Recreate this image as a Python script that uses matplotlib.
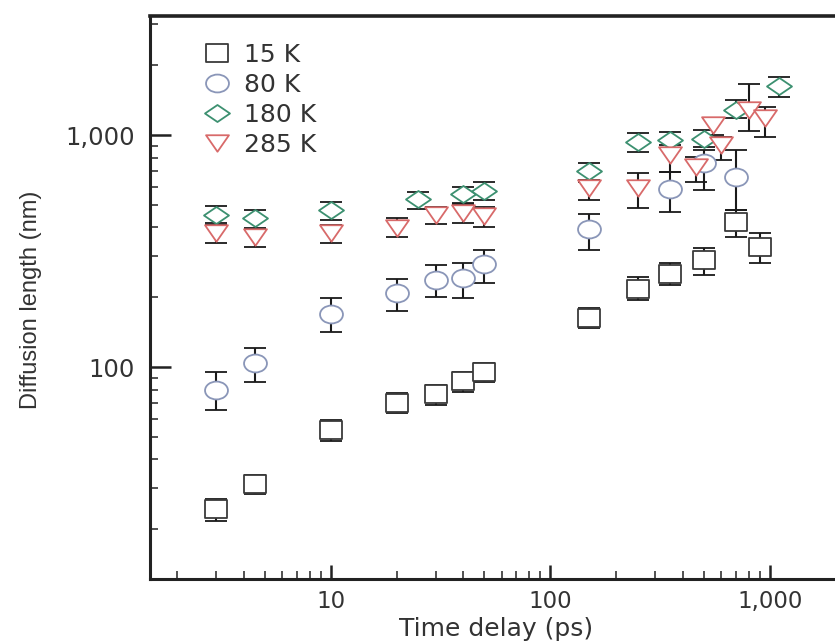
import matplotlib
matplotlib.use("Agg")
import matplotlib.pyplot as plt
import numpy as np
from matplotlib.path import Path
from matplotlib.transforms import Affine2D
from matplotlib.ticker import FuncFormatter, LogLocator, NullFormatter

# time delay (ps), diffusion length (nm) and lower/upper error bounds
t_15 = [3, 4.5, 10, 20, 30, 40, 50, 150, 250, 350, 500, 700, 900]
L_15 = [24.4, 31.3, 53.5, 70, 76.3, 87, 95.5, 162, 218, 253, 289, 423, 330]
lo_15 = [21.7, 28.3, 48.1, 63.1, 68.6, 78.3, 86.4, 147, 195, 225, 249, 365, 280]
hi_15 = [26.9, 34.2, 59.2, 77.1, 83.6, 95.4, 104.4, 179, 245, 280, 325, 475, 377]

t_80 = [3, 4.5, 10, 20, 30, 40, 50, 150, 350, 500, 700]
L_80 = [80, 104, 170, 208, 237, 241, 278, 392, 583, 755, 661]
lo_80 = [65, 86, 142, 174, 201, 199, 231, 321, 467, 579, 475]
hi_80 = [95, 121, 198, 239, 275, 280, 321, 459, 695, 861, 861]

t_180 = [3, 4.5, 10, 25, 40, 50, 150, 250, 350, 500, 700, 1100]
L_180 = [452, 438, 475, 528, 557, 576, 703, 935, 951, 966, 1282, 1627]
lo_180 = [416, 396, 431, 479, 510, 525, 640, 847, 877, 890, 1180, 1455]
hi_180 = [495, 475, 516, 570, 599, 630, 755, 1017, 1028, 1050, 1416, 1775]

t_285 = [3, 4.5, 10, 20, 30, 40, 50, 150, 250, 350, 460, 550, 600, 800, 950]
L_285 = [377, 362, 377, 398, 452, 460, 448, 589, 589, 820, 731, 1104, 906, 1282, 1180]
lo_285 = [341, 328, 341, 362, 413, 419, 403, 525, 483, 695, 630, 1000, 779, 1036, 984]
hi_285 = [409, 392, 409, 437, 491, 505, 491, 630, 683, 906, 806, 1180, 984, 1667, 1324]

labels = ["15 K", "80 K", "180 K", "285 K"]
colors = ["#3a3a3a", "#8a96b8", "#3c9070", "#d86a6a"]

# the original scan is stretched sideways, so the markers are a bit wider than tall
sq = Path([(-1, -0.8), (1, -0.8), (1, 0.8), (-1, 0.8), (-1, -0.8)],
          [Path.MOVETO, Path.LINETO, Path.LINETO, Path.LINETO, Path.CLOSEPOLY])
ell = Path.unit_circle().transformed(Affine2D().scale(1, 0.78))
dia = Path([(-1, 0), (0, 0.68), (1, 0), (0, -0.68), (-1, 0)],
           [Path.MOVETO, Path.LINETO, Path.LINETO, Path.LINETO, Path.CLOSEPOLY])
tri = Path([(-1, 0.72), (1, 0.72), (0, -0.72), (-1, 0.72)],
           [Path.MOVETO, Path.LINETO, Path.LINETO, Path.CLOSEPOLY])
markers = [sq, ell, dia, tri]
msizes = [15.5, 16.5, 18, 16.5]

series = [(t_15, L_15, lo_15, hi_15), (t_80, L_80, lo_80, hi_80),
          (t_180, L_180, lo_180, hi_180), (t_285, L_285, lo_285, hi_285)]

W, H = 835, 642
fig = plt.figure(figsize=(W / 100, H / 100), dpi=100)

xlim = (1.5, 3000)
ylim = (12.2, 3260)
px_per_decade = 219.5
left, right_px = 150, 150 + px_per_decade * np.log10(xlim[1] / xlim[0])
top, bottom = 16, 579
ax = fig.add_axes([left / W, 1 - bottom / H, (right_px - left) / W, (bottom - top) / H])

handles = []
for (t, L, lo, hi), lab, c, m, ms in zip(series, labels, colors, markers, msizes):
    t = np.array(t, float)
    L = np.array(L, float)
    yerr = [L - np.array(lo), np.array(hi) - L]
    eb = ax.errorbar(t, L, yerr=yerr, ls="none", marker=m, ms=ms, mfc="white",
                     mec=c, mew=1.3, ecolor="#1a1a1a", elinewidth=1.5,
                     capsize=8, capthick=1.5, label=lab)
    handles.append(eb.lines[0])

ax.set_xscale("log")
ax.set_yscale("log")
ax.set_xlim(*xlim)
ax.set_ylim(*ylim)

comma = FuncFormatter(lambda v, p: f"{v:,.0f}")
ax.xaxis.set_major_locator(LogLocator(base=10))
ax.yaxis.set_major_locator(LogLocator(base=10))
ax.xaxis.set_major_formatter(comma)
ax.yaxis.set_major_formatter(comma)
ax.xaxis.set_minor_formatter(NullFormatter())
ax.yaxis.set_minor_formatter(NullFormatter())

ax.tick_params(which="both", direction="in", top=False, right=False,
               color="#222222", labelcolor="#333333")
ax.tick_params(axis="x", which="major", length=10, width=1.8, pad=8, labelsize=16.5)
ax.tick_params(axis="y", which="major", length=15, width=1.8, pad=11, labelsize=17.5)
ax.tick_params(which="minor", length=6, width=1.1)
for lbl in ax.get_xticklabels() + ax.get_yticklabels():
    lbl.set_family("DejaVu Sans")

ax.spines["right"].set_visible(False)
ax.spines["top"].set_linewidth(2.6)
ax.spines["left"].set_linewidth(2.2)
ax.spines["bottom"].set_linewidth(2.2)
for s in ax.spines.values():
    s.set_color("#222222")

ax.set_xlabel("Time delay (ps)", fontsize=18, color="#333333", family="DejaVu Sans")
ax.xaxis.set_label_coords(496 / W, 1 - 617 / H, transform=fig.transFigure)
ax.set_ylabel("Diffusion length (nm)", fontsize=17, color="#333333",
              family="Liberation Sans")
ax.yaxis.set_label_coords(42 / W, 1 - 300 / H, transform=fig.transFigure)

ax.legend(handles=handles, labels=labels, loc="upper left",
          bbox_to_anchor=(204 / W, 1 - 43 / H), bbox_transform=fig.transFigure,
          frameon=False, numpoints=1, handlelength=1.0, handletextpad=0.62,
          labelspacing=0.24, borderpad=0, borderaxespad=0,
          prop={"family": "DejaVu Sans", "size": 18}, labelcolor="#333333")

fig.savefig("out.png", dpi=100)
